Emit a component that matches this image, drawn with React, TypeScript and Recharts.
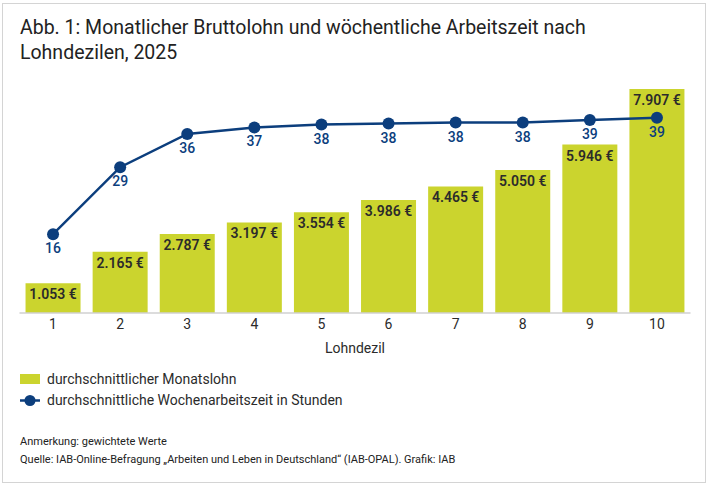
import React from 'react';
import { ComposedChart, Bar, Line, XAxis, YAxis, LabelList } from 'recharts';

const deciles = ['1', '2', '3', '4', '5', '6', '7', '8', '9', '10'];
const monthlyWage = [1053, 2165, 2787, 3197, 3554, 3986, 4465, 5050, 5946, 7907];
const weeklyHours = [15.9, 29.4, 36.1, 37.4, 38.0, 38.2, 38.4, 38.4, 38.9, 39.4];

const titleLines = [
  'Abb. 1: Monatlicher Bruttolohn und wöchentliche Arbeitszeit nach',
  'Lohndezilen, 2025',
];
const legendWage = 'durchschnittlicher Monatslohn';
const legendHours = 'durchschnittliche Wochenarbeitszeit in Stunden';
const xAxisTitle = 'Lohndezil';
const noteText = 'Anmerkung: gewichtete Werte';
const sourceText = 'Quelle: IAB-Online-Befragung „Arbeiten und Leben in Deutschland“ (IAB-OPAL). Grafik: IAB';

const data = deciles.map((d, i) => ({ decile: d, wage: monthlyWage[i], hours: weeklyHours[i] }));

const BAR_COLOR = '#cbd42e';
const LINE_COLOR = '#0c3e7d';
const TEXT = '#2b2b2b';
const FONT = 'Roboto, "Noto Sans", sans-serif';

const fmtEuro = (v: any) => {
  const s = String(Math.round(Number(v)));
  const withSep = s.replace(/\B(?=(\d{3})+(?!\d))/g, '.');
  return withSep + ' €';
};

export default function App() {
  return (
    <div
      style={{
        position: 'absolute',
        left: 0,
        top: 0,
        width: 710,
        height: 486,
        background: '#fff',
        fontFamily: FONT,
        color: TEXT,
      }}
    >
      <div
        style={{
          position: 'absolute',
          left: 2,
          top: 3,
          width: 704,
          height: 480,
          border: '1px solid #d4d4d4',
          boxSizing: 'border-box',
        }}
      />
      <div
        style={{
          position: 'absolute',
          left: 20,
          top: 15,
          fontSize: 19.5,
          lineHeight: '25px',
          color: '#222',
        }}
      >
        {titleLines.map((t, i) => (
          <div key={i}>{t}</div>
        ))}
      </div>
      <div style={{ position: 'absolute', left: 0, top: 0 }}>
        <ComposedChart
          width={710}
          height={360}
          data={data}
          margin={{ top: 86.4, left: 19.5, right: 19.5, bottom: 7 }}
          barCategoryGap="9%"
        >
          <XAxis
            dataKey="decile"
            height={40}
            tickLine={false}
            tickSize={0}
            tickMargin={6}
            axisLine={{ stroke: '#d0d0d0', strokeWidth: 1.5 }}
            tick={{ fill: TEXT, fontSize: 14, fontFamily: FONT }}
            label={{ value: xAxisTitle, position: 'insideBottom', offset: 0, fill: TEXT, fontSize: 14, fontFamily: FONT }}
          />
          <YAxis yAxisId="left" hide domain={[0, 8000]} />
          <YAxis yAxisId="right" orientation="right" hide domain={[0, 45.7]} />
          <Bar yAxisId="left" dataKey="wage" fill={BAR_COLOR} isAnimationActive={false}>
            <LabelList
              dataKey="wage"
              position="insideTop"
              offset={6}
              formatter={fmtEuro}
              fill={TEXT}
              fontSize={14}
              fontWeight={600}
              fontFamily={FONT}
            />
          </Bar>
          <Line
            yAxisId="right"
            dataKey="hours"
            stroke={LINE_COLOR}
            strokeWidth={2.5}
            dot={{ r: 6, fill: LINE_COLOR, stroke: LINE_COLOR, strokeWidth: 0 }}
            activeDot={false}
            isAnimationActive={false}
          >
            <LabelList
              dataKey="hours"
              position="bottom"
              offset={9}
              formatter={(v: any) => String(Math.round(Number(v)))}
              fill={LINE_COLOR}
              fontSize={14}
              fontWeight={500}
              fontFamily={FONT}
            />
          </Line>
        </ComposedChart>
      </div>
      <div style={{ position: 'absolute', left: 20, top: 369, fontSize: 14, lineHeight: '21px' }}>
        <div style={{ display: 'flex', alignItems: 'center' }}>
          <svg width={20} height={21} style={{ marginRight: 7 }}>
            <rect x={0} y={5} width={20} height={10} fill={BAR_COLOR} />
          </svg>
          <span>{legendWage}</span>
        </div>
        <div style={{ display: 'flex', alignItems: 'center' }}>
          <svg width={20} height={21} style={{ marginRight: 7 }}>
            <line x1={0} y1={10.5} x2={20} y2={10.5} stroke={LINE_COLOR} strokeWidth={2.5} />
            <circle cx={10} cy={10.5} r={5.5} fill={LINE_COLOR} />
          </svg>
          <span>{legendHours}</span>
        </div>
      </div>
      <div style={{ position: 'absolute', left: 20, top: 433, fontSize: 11, lineHeight: '18px', color: '#222' }}>
        <div>{noteText}</div>
        <div>{sourceText}</div>
      </div>
    </div>
  );
}
